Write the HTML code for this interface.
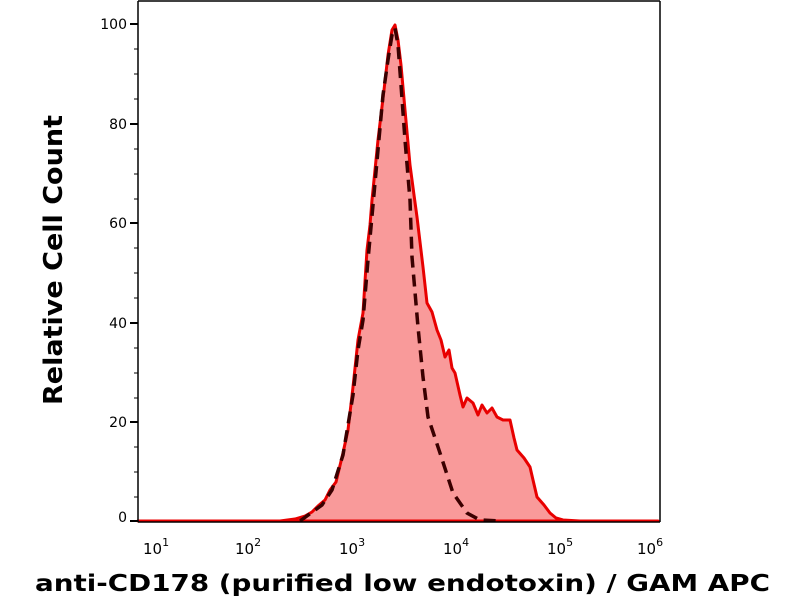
<!DOCTYPE html>
<html><head><meta charset="utf-8"><style>
body{margin:0;background:#fff;}
svg text{font-family:"DejaVu Sans","Liberation Sans",sans-serif;}
</style></head><body>
<svg width="800" height="600" xmlns="http://www.w3.org/2000/svg">
<rect width="800" height="600" fill="#fff"/>
<path d="M138,521 L280,521 L295,519 L305,516 L312,512 L318,506 L325,500 L330,490 L336,482 L343,453 L348,430 L353,387 L358,340 L363,313 L367,250 L370,225 L372,200 L378,140 L384,90 L388,55 L392,30 L395,25 L398,40 L401,65 L405,110 L410,165 L414,195 L417,217 L423,267 L427,303 L432,312 L437,330 L441,340 L445,357 L449,350 L452,368 L455,373 L460,395 L463,407 L467,398 L473,403 L478,415 L482,405 L487,413 L492,408 L497,417 L503,420 L510,420 L514,438 L517,450 L524,458 L530,467 L533,480 L537,497 L544,505 L550,513 L556,518 L563,520 L580,521 L658,521 Z" fill="#f99a9a" stroke="#e80000" stroke-width="3" stroke-linejoin="round"/>
<polyline points="300,521 322,505 332,490 343,455 353,395 358,350 363,320 368,260 373,205 378,150 383,95 388,60 392,35 395,28 398,45 401,85 405,140 410,200 412,257 418,327 423,377 428,417 440,453 453,493 467,513 480,520 500,521" fill="none" stroke="#3a0000" stroke-width="3.5" stroke-dasharray="12,7"/>
<g stroke="#000" stroke-width="1.5" fill="none">
<line x1="138" y1="1" x2="660" y2="1"/>
<line x1="660" y1="1" x2="660" y2="522"/>
<line x1="138" y1="1" x2="138" y2="522"/>
<line x1="138" y1="522" x2="660" y2="522"/>
</g>
<g stroke="#000" stroke-width="2">
<line x1="130" y1="24" x2="138" y2="24"/><line x1="130" y1="124" x2="138" y2="124"/><line x1="130" y1="223" x2="138" y2="223"/><line x1="130" y1="323" x2="138" y2="323"/><line x1="130" y1="422" x2="138" y2="422"/><line x1="130" y1="521" x2="138" y2="521"/>
</g>
<g stroke="#000" stroke-width="1">
<line x1="134" y1="49" x2="138" y2="49"/><line x1="134" y1="74" x2="138" y2="74"/><line x1="134" y1="99" x2="138" y2="99"/>
<line x1="134" y1="149" x2="138" y2="149"/><line x1="134" y1="174" x2="138" y2="174"/><line x1="134" y1="199" x2="138" y2="199"/>
<line x1="134" y1="248" x2="138" y2="248"/><line x1="134" y1="273" x2="138" y2="273"/><line x1="134" y1="298" x2="138" y2="298"/>
<line x1="134" y1="348" x2="138" y2="348"/><line x1="134" y1="373" x2="138" y2="373"/><line x1="134" y1="398" x2="138" y2="398"/>
<line x1="134" y1="447" x2="138" y2="447"/><line x1="134" y1="472" x2="138" y2="472"/><line x1="134" y1="497" x2="138" y2="497"/>
</g>
<g font-size="14" text-anchor="end" fill="#000">
<text x="127" y="29">100</text><text x="127" y="129">80</text><text x="127" y="228">60</text><text x="127" y="328">40</text><text x="127" y="427">20</text><text x="127" y="522">0</text>
</g>
<g id="xt" stroke="#000"></g>
<script>
var g=document.getElementById('xt'),s='';
for(var d=1;d<6;d++){var b=138+(d-1)*104;
s+='<line x1="'+b+'" y1="522" x2="'+b+'" y2="531" stroke-width="2"/>';
for(var k=2;k<10;k++){var x=b+104*Math.log10(k);s+='<line x1="'+x+'" y1="522" x2="'+x+'" y2="527" stroke-width="1"/>';}}
s+='<line x1="658" y1="522" x2="658" y2="531" stroke-width="2"/>';
g.innerHTML=s;
</script>
<g font-size="15" fill="#000">
<text x="143" y="554">10<tspan font-size="11" dy="-8">1</tspan></text>
<text x="235" y="554">10<tspan font-size="11" dy="-8">2</tspan></text>
<text x="339" y="554">10<tspan font-size="11" dy="-8">3</tspan></text>
<text x="443" y="554">10<tspan font-size="11" dy="-8">4</tspan></text>
<text x="547" y="554">10<tspan font-size="11" dy="-8">5</tspan></text>
<text x="637" y="554">10<tspan font-size="11" dy="-8">6</tspan></text>
</g>
<text x="35" y="591" font-size="23" font-weight="bold" textLength="735" lengthAdjust="spacingAndGlyphs">anti-CD178 (purified low endotoxin) / GAM APC</text>
<text transform="translate(62,405) rotate(-90)" font-size="26" font-weight="bold" textLength="290" lengthAdjust="spacingAndGlyphs">Relative Cell Count</text>
</svg>
</body></html>
